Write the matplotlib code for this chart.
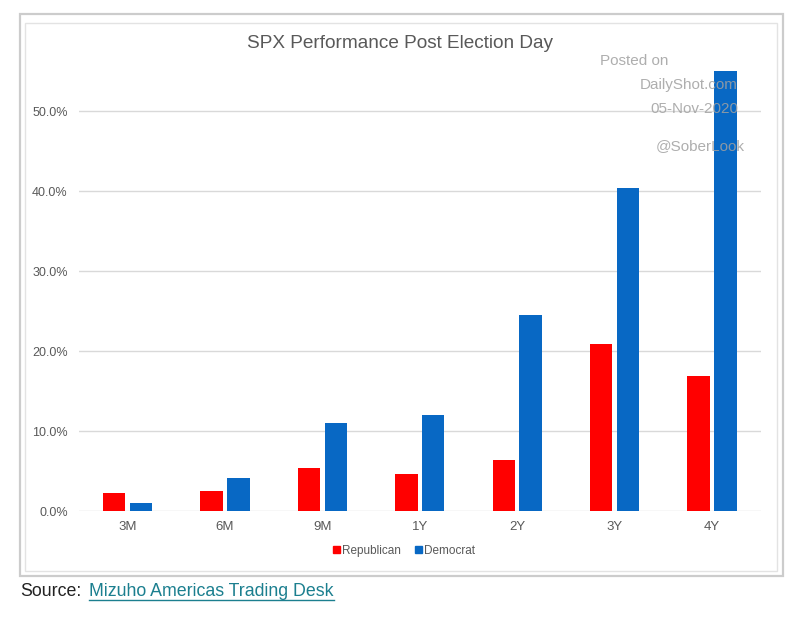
import matplotlib.pyplot as plt
import numpy as np
from matplotlib.patches import Rectangle, Patch
from matplotlib.lines import Line2D

plt.rcParams['font.family'] = ['Liberation Sans', 'DejaVu Sans']

# Chart data
periods = ['3M', '6M', '9M', '1Y', '2Y', '3Y', '4Y']
republican = [2.2, 2.5, 5.4, 4.6, 6.4, 20.9, 16.9]
democrat = [1.0, 4.1, 11.0, 12.0, 24.5, 40.4, 55.0]
y_ticks = [0, 10, 20, 30, 40, 50]

red = '#ff0000'
blue = '#0868c4'
grey_txt = '#595959'

W, H = 800, 621
fig = plt.figure(figsize=(W / 100, H / 100), dpi=100)


def fx(px):
    return px / W


def fy(py):
    return 1 - py / H


# outer / inner frame like the screenshot
fig.patches.append(Rectangle((fx(20), fy(576)), fx(783) - fx(20), fy(14) - fy(576),
                             transform=fig.transFigure, fill=False, ec='#cccccc', lw=1.6))
fig.patches.append(Rectangle((fx(25), fy(571)), fx(777) - fx(25), fy(23) - fy(571),
                             transform=fig.transFigure, fill=False, ec='#e3e3e3', lw=1.0))

ax = fig.add_axes([fx(78.8), fy(511), fx(760.7) - fx(78.8), fy(71) - fy(511)])

x = np.arange(len(periods))
bw = 0.23
gap = 0.046
ax.bar(x - (bw + gap) / 2, republican, bw, color=red, label='Republican', zorder=3)
ax.bar(x + (bw + gap) / 2, democrat, bw, color=blue, label='Democrat', zorder=3)

ax.set_xlim(-0.5, len(periods) - 0.5)
ax.set_ylim(0, 55)
ax.set_yticks(y_ticks)
ax.set_yticklabels(['%.1f%%' % v for v in y_ticks])
ax.set_xticks(x)
ax.set_xticklabels(periods)
ax.yaxis.grid(True, color='#d9d9d9', lw=1.0, zorder=0)
ax.set_axisbelow(True)
for s in ax.spines.values():
    s.set_visible(False)
ax.tick_params(axis='both', length=0, labelcolor=grey_txt)
ax.tick_params(axis='y', pad=8.0, labelsize=9)
ax.tick_params(axis='x', pad=7.0, labelsize=9.5)

fig.text(0.5, fy(44), 'SPX Performance Post Election Day', ha='center', va='center',
         fontsize=13.7, color=grey_txt)

handles = [Patch(color=red, label='Republican'), Patch(color=blue, label='Democrat')]
fig.legend(handles=handles, loc='center', bbox_to_anchor=(fx(404), fy(551)), ncol=2,
           frameon=False, fontsize=8.5, handlelength=0.55, handleheight=0.55,
           handletextpad=0.2, columnspacing=1.2, labelcolor=grey_txt)

# watermark
wm = '#a0a0a0'
fig.text(fx(600), fy(61), 'Posted on', ha='left', va='center', fontsize=11, color=wm,
         alpha=0.85, zorder=10)
fig.text(fx(738), fy(85), 'DailyShot.com', ha='right', va='center', fontsize=11, color=wm,
         alpha=0.85, zorder=10)
fig.text(fx(738), fy(109), '05-Nov-2020', ha='right', va='center', fontsize=11, color=wm,
         alpha=0.85, zorder=10)
fig.text(fx(745), fy(146), '@SoberLook', ha='right', va='center', fontsize=11, color=wm,
         alpha=0.85, zorder=10)

# source line
fig.text(fx(20), fy(591), 'Source:', ha='left', va='center', fontsize=12.8, color='#222222')
link = fig.text(fx(89), fy(591), 'Mizuho Americas Trading Desk', ha='left', va='center',
                fontsize=12.8, color='#1b7f8f')
fig.canvas.draw()
bb = link.get_window_extent().transformed(fig.transFigure.inverted())
fig.lines.append(Line2D([bb.x0, bb.x1], [fy(600), fy(600)], transform=fig.transFigure,
                        color='#1b7f8f', lw=1.0))

fig.savefig('out.png', dpi=100, facecolor='white')
